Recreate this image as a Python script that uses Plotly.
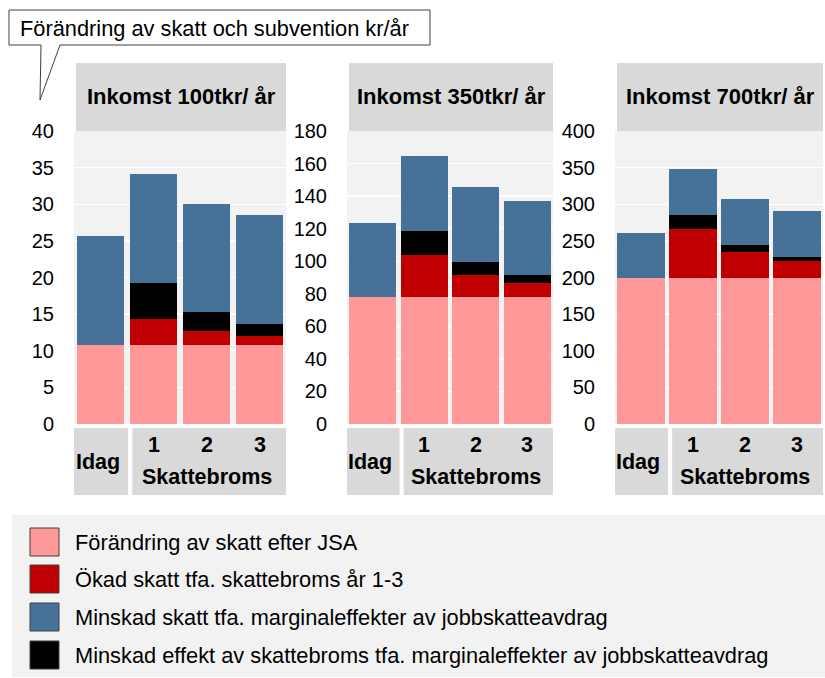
import plotly.graph_objects as go

W, H = 825, 678
FONT = "Liberation Sans, Arial, sans-serif"

categories = ["Idag", "1", "2", "3"]
panel_titles = ["Inkomst 100tkr/ år", "Inkomst 350tkr/ år", "Inkomst 700tkr/ år"]

# stacked values, bottom to top: JSA (pink), skattebroms (red), minskad effekt (black), marginaleffekter (blue)
jsa_100 = [10.8, 10.8, 10.8, 10.8]
broms_100 = [0, 3.6, 1.9, 1.2]
effekt_100 = [0, 4.9, 2.6, 1.6]
marginal_100 = [14.8, 14.8, 14.8, 14.9]

jsa_350 = [78, 78, 78, 78]
broms_350 = [0, 26, 13.7, 8.6]
effekt_350 = [0, 14.6, 7.8, 4.9]
marginal_350 = [45.5, 45.8, 46, 45.8]

jsa_700 = [200, 200, 200, 200]
broms_700 = [0, 66, 34.5, 22.3]
effekt_700 = [0, 20, 10, 6.3]
marginal_700 = [61.3, 62, 62.8, 62.3]

y_max = [40, 180, 400]
y_dtick = [5, 20, 50]

series_names = [
    "Förändring av skatt efter JSA",
    "Ökad skatt tfa. skattebroms år 1-3",
    "Minskad skatt tfa. marginaleffekter av jobbskatteavdrag",
    "Minskad effekt av skattebroms tfa. marginaleffekter av jobbskatteavdrag",
]
series_colors = ["#ff9999", "#c00000", "#46729a", "#000000"]

panels = [
    (jsa_100, broms_100, marginal_100, effekt_100),
    (jsa_350, broms_350, marginal_350, effekt_350),
    (jsa_700, broms_700, marginal_700, effekt_700),
]


def px(x):
    return x / W


def py(y):
    return 1 - y / H


x_domains = [(74, 286), (347, 553), (615, 823)]
plot_top, plot_bot = 131, 424

fig = go.Figure()
stack_order = [0, 1, 3, 2]  # pink, red, black, blue
for i, data in enumerate(panels):
    xa = "x" if i == 0 else f"x{i+1}"
    ya = "y" if i == 0 else f"y{i+1}"
    for s in stack_order:
        fig.add_trace(go.Bar(
            x=categories, y=data[s], name=series_names[s],
            marker=dict(color=series_colors[s], line=dict(width=0)),
            xaxis=xa, yaxis=ya, showlegend=False,
        ))

layout = dict(
    width=W, height=H, autosize=False,
    margin=dict(l=0, r=0, t=0, b=0, pad=0),
    paper_bgcolor="white", plot_bgcolor="#f2f2f2",
    barmode="stack", bargap=0.095,
    font=dict(family=FONT, size=20, color="#000000"),
    showlegend=False,
)
shapes = []
annotations = []
for i in range(3):
    sx = "" if i == 0 else str(i + 1)
    x0, x1 = x_domains[i]
    layout[f"xaxis{sx}"] = dict(
        domain=[px(x0), px(x1)], anchor=f"y{sx}", type="category",
        showticklabels=False, showgrid=False, zeroline=False, showline=False,
        range=[-0.5, 3.5], fixedrange=True, automargin=False,
    )
    layout[f"yaxis{sx}"] = dict(
        domain=[py(plot_bot), py(plot_top)], anchor=f"x{sx}",
        range=[0, y_max[i]], dtick=y_dtick[i], showgrid=True, gridcolor="white",
        gridwidth=1.3, zeroline=False, showline=False, ticks="",
        ticklabelstandoff=19, tickfont=dict(size=20, color="#000000"),
        fixedrange=True, automargin=False,
    )
    # panel title box
    shapes.append(dict(type="rect", xref="paper", yref="paper",
                       x0=px(x0 + 2), x1=px(x1), y0=py(plot_top), y1=py(63),
                       fillcolor="#d9d9d9", line=dict(width=0), layer="below"))
    annotations.append(dict(text=f"<b>{panel_titles[i]}</b>", xref="paper", yref="paper",
                            x=px((x0 + 2 + x1) / 2), y=py(97), showarrow=False,
                            xanchor="center", yanchor="middle",
                            font=dict(size=22, family=FONT, color="#000000")))
    # category label boxes
    xr = f"x{sx}"
    shapes.append(dict(type="rect", xref=xr, yref="paper", x0=-0.6, x1=0.52,
                       y0=py(495), y1=py(428), fillcolor="#d9d9d9", line=dict(width=0)))
    shapes.append(dict(type="rect", xref=xr, yref="paper", x0=0.6, x1=3.5,
                       y0=py(495), y1=py(428), fillcolor="#d9d9d9", line=dict(width=0)))
    annotations.append(dict(text="<b>Idag</b>", xref=xr, yref="paper", x="Idag", xshift=-3,
                            y=py(462), showarrow=False, yanchor="middle",
                            font=dict(size=21.5, family=FONT, color="#000000")))
    for c in categories[1:]:
        annotations.append(dict(text=f"<b>{c}</b>", xref=xr, yref="paper", x=c,
                                y=py(445), showarrow=False, yanchor="middle",
                                font=dict(size=21.5, family=FONT, color="#000000")))
    annotations.append(dict(text="<b>Skattebroms</b>", xref=xr, yref="paper", x="2",
                            y=py(477), showarrow=False, yanchor="middle",
                            font=dict(size=21.5, family=FONT, color="#000000")))

# callout with unit label
path = (f"M {px(9)},{py(10)} L {px(430)},{py(10)} L {px(430)},{py(45)} "
        f"L {px(60)},{py(45)} L {px(40)},{py(100)} L {px(41)},{py(45)} "
        f"L {px(9)},{py(45)} Z")
shapes.append(dict(type="path", xref="paper", yref="paper", path=path,
                   fillcolor="white", line=dict(color="#404040", width=1)))
annotations.append(dict(text="Förändring av skatt och subvention kr/år", xref="paper", yref="paper",
                        x=px(18), y=py(28), xanchor="left", yanchor="middle", showarrow=False,
                        font=dict(size=21.8, family=FONT, color="#000000")))

# legend block
shapes.append(dict(type="rect", xref="paper", yref="paper", x0=px(12), x1=px(825),
                   y0=py(677), y1=py(515), fillcolor="#f2f2f2", line=dict(width=0), layer="below"))
legend_rows = [542, 579, 617, 655]
for k, s in enumerate([0, 1, 2, 3]):
    yc = legend_rows[k]
    shapes.append(dict(type="rect", xref="paper", yref="paper", x0=px(30), x1=px(59),
                       y0=py(yc + 14), y1=py(yc - 14), fillcolor=series_colors[s],
                       line=dict(color="#404040", width=1)))
    annotations.append(dict(text=series_names[s], xref="paper", yref="paper",
                            x=px(73), y=py(yc), xanchor="left", yanchor="middle", showarrow=False,
                            font=dict(size=21.8, family=FONT, color="#000000")))

layout["shapes"] = shapes
layout["annotations"] = annotations
fig.update_layout(**layout)

post = (
    "document.documentElement.style.margin='0';"
    "document.documentElement.style.overflow='hidden';"
    "document.body.style.margin='0';document.body.style.padding='0';"
    "document.body.style.overflow='hidden';"
    "var gd=document.getElementById('{plot_id}');"
    "gd.style.position='absolute';gd.style.left='0px';gd.style.top='0px';"
)
fig.write_html("out.html", config={"displayModeBar": False, "staticPlot": True},
               post_script=post)
